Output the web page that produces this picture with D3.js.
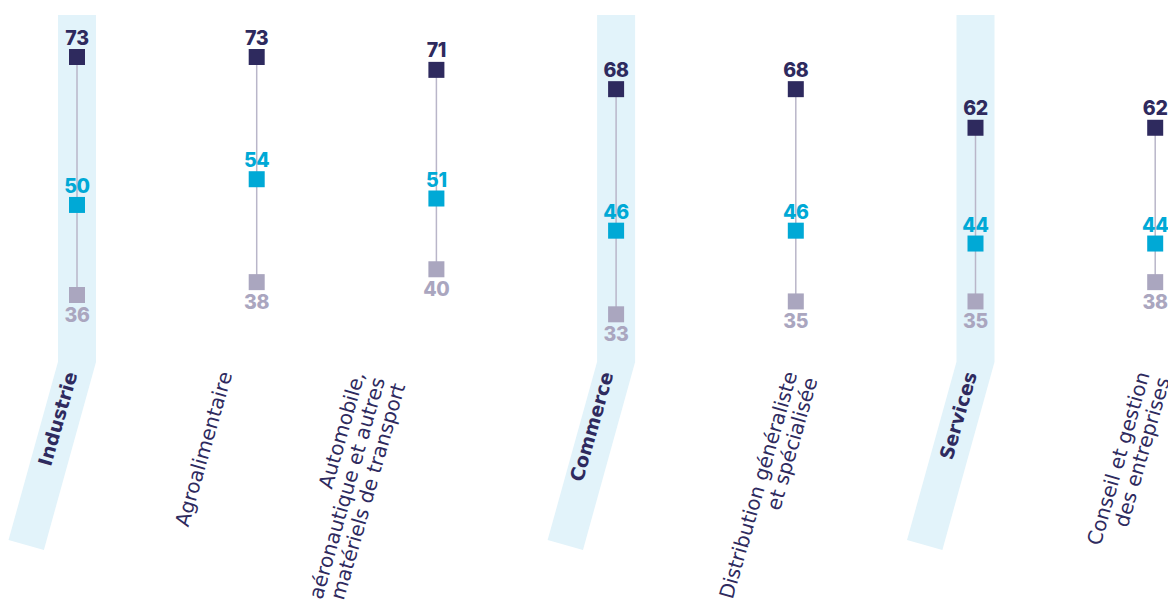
<!DOCTYPE html>
<html>
<head>
<meta charset="utf-8">
<script src="https://cdn.jsdelivr.net/npm/d3@7"></script>
<style>
  html, body { margin: 0; padding: 0; background: #ffffff; overflow: hidden; }
  svg { display: block; }
</style>
</head>
<body>
<div id="chart"></div>
<script>
// ---- data ----
const categories = [
  "Industrie",
  "Agroalimentaire",
  "Automobile, aéronautique et autres matériels de transport",
  "Commerce",
  "Distribution généraliste et spécialisée",
  "Services",
  "Conseil et gestion des entreprises"
];
const labelLines = [
  ["Industrie"],
  ["Agroalimentaire"],
  ["Automobile,", "aéronautique et autres", "matériels de transport"],
  ["Commerce"],
  ["Distribution généraliste", "et spécialisée"],
  ["Services"],
  ["Conseil et gestion", "des entreprises"]
];
const isSector = [true, false, false, true, false, true, false];
const highValues = [73, 73, 71, 68, 68, 62, 62];
const midValues  = [50, 54, 51, 46, 46, 44, 44];
const lowValues  = [36, 38, 40, 33, 35, 35, 38];

// ---- layout ----
const W = 1168, H = 608;
const labelShift = [-10, -35, -82, -13, -9, -9, -16];
const colors = { high: "#2e2a5e", mid: "#00a9d6", low: "#aaa6bf", line: "#b9b6c9", band: "#e2f3fa", text: "#2e2a5e" };
const sq = 16;
const numFont = "Inter, 'Open Sans', sans-serif";
const labelFont = "'DejaVu Sans', sans-serif";

const svg = d3.select("#chart").append("svg").attr("width", W).attr("height", H);

const x = d3.scalePoint().domain(categories).range([77, 1155.2]);
const y = d3.scaleLinear().domain([36, 73]).range([295, 57]);

const rows = categories.map((c, i) => ({
  cat: c, i, lines: labelLines[i], sector: isSector[i],
  high: highValues[i], mid: midValues[i], low: lowValues[i]
}));

// bands for sector columns
const bandHalf = 19, bandTop = 15, bandBreak = 362;
const slantA = 15.5 * Math.PI / 180, slantL = 195, bandW = 36.7;
function bandPath(cx) {
  const d = [-Math.sin(slantA), Math.cos(slantA)];
  const n = [-Math.cos(slantA), -Math.sin(slantA)];
  const p3 = [cx + bandHalf, bandBreak];
  const p4 = [p3[0] + d[0] * slantL, p3[1] + d[1] * slantL];
  const p5 = [p4[0] + n[0] * bandW, p4[1] + n[1] * bandW];
  const t = (cx - bandHalf - p5[0]) / d[0];
  const p6 = [cx - bandHalf, p5[1] + t * d[1]];
  return d3.line()([[cx - bandHalf, bandTop], [cx + bandHalf, bandTop], p3, p4, p5, p6]) + "Z";
}
svg.append("g").selectAll("path").data(rows.filter(r => r.sector)).join("path")
  .attr("d", r => bandPath(x(r.cat)))
  .attr("fill", colors.band);

// connecting lines
svg.append("g").selectAll("line").data(rows).join("line")
  .attr("x1", r => x(r.cat)).attr("x2", r => x(r.cat))
  .attr("y1", r => y(r.high)).attr("y2", r => y(r.low))
  .attr("stroke", colors.line).attr("stroke-width", 1.5);

// squares + value labels
const series = [
  { key: "low",  color: colors.low,  dy: 27 },
  { key: "mid",  color: colors.mid,  dy: -12 },
  { key: "high", color: colors.high, dy: -12.5 }
];
series.forEach(s => {
  const g = svg.append("g");
  g.selectAll("rect").data(rows).join("rect")
    .attr("x", r => x(r.cat) - sq / 2)
    .attr("y", r => y(r[s.key]) - sq / 2)
    .attr("width", sq).attr("height", sq)
    .attr("fill", s.color);
  g.selectAll("text").data(rows).join("text")
    .attr("x", r => x(r.cat))
    .attr("y", r => y(r[s.key]) + s.dy)
    .attr("text-anchor", "middle")
    .attr("font-family", numFont)
    .attr("font-weight", 800)
    .attr("font-size", 19.5)
    .attr("letter-spacing", -0.3)
    .attr("fill", s.color)
    .text(r => r[s.key]);
});

// category labels (rotated)
const labelY = 371, lineH = 21, angle = -74;
const lbl = svg.append("g").selectAll("text").data(rows).join("text")
  .attr("transform", r => `translate(${x(r.cat) + labelShift[r.i]},${labelY}) rotate(${angle})`)
  .attr("text-anchor", "end")
  .attr("font-family", labelFont)
  .attr("font-size", r => r.sector ? 19 : 20)
  .attr("font-weight", r => r.sector ? 700 : 400)
  .attr("fill", colors.text);
lbl.selectAll("tspan").data(r => r.lines).join("tspan")
  .attr("x", 0)
  .attr("y", (d, j) => 11 + j * lineH)
  .text(d => d);
</script>
</body>
</html>
